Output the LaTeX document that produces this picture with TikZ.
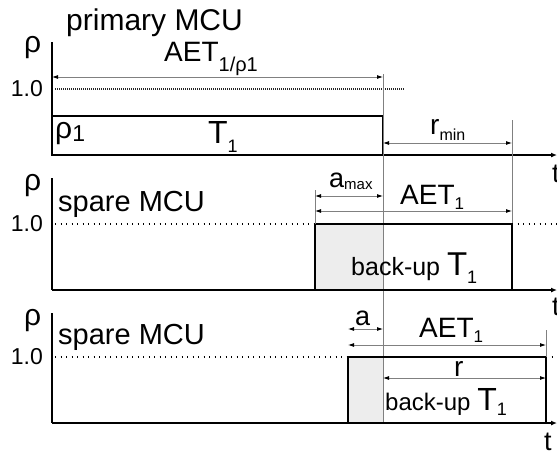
\documentclass[tikz,border=0pt]{standalone}
\usepackage{fontspec}
\setmainfont{Liberation Sans}
\usetikzlibrary{arrows.meta}
\newcommand\fs[1]{\fontsize{#1}{#1}\selectfont}
\newcommand\lsub[3]{\raisebox{-#1pt}{\fs{#2}#3}}
\begin{document}
\begin{tikzpicture}[x=1pt,y=-1pt,
  axis/.style={line width=1.8pt,black},
  taxis/.style={line width=1.8pt,black,-{Latex[length=6pt,width=5pt]}},
  tbox/.style={line width=1.8pt,black},
  shade/.style={fill=black!7,draw=none},
  dim/.style={line width=0.8pt,black!50,{Latex[black,length=6pt,width=4pt]}-{Latex[black,length=6pt,width=4pt]}},
  guide/.style={line width=0.8pt,black!50},
  densedot/.style={line width=1.4pt,black!85,dash pattern=on 1.2pt off 0.8pt},
  sparsedot/.style={line width=1.3pt,black,dash pattern=on 1.3pt off 4.2pt},
  lbl/.style={inner sep=0pt,anchor=base west},
  ylbl/.style={inner sep=0pt,anchor=base east,font=\fs{23}}]
\useasboundingbox (0,0) rectangle (557,451);

% ---------------- panel 1 : primary MCU
\coordinate (top1) at (52,42);
\coordinate (o1) at (52,155);
\coordinate (e1) at (557,155);
\draw[axis] (top1) -- (o1);
\draw[taxis] (o1) -- (e1);
\node[lbl,font=\fs{30}] (title1) at (66,30) {primary MCU};
\node[lbl,font=\fs{30}] (rhoA) at (24,52) {ρ};
\node[ylbl] (oneA) at (43,96) {1.0};
\coordinate (d1a) at (55,89);
\coordinate (d1b) at (404,89);
\draw[densedot] (d1a) -- (d1b);
\coordinate (r1a) at (52,116);
\coordinate (r1b) at (383,155);
\draw[tbox] (r1a) rectangle (r1b);
\node[lbl,font=\fs{30}] (rho1) at (55,138) {ρ\lsub{3}{23}{1}};
\node[lbl,font=\fs{32}] (T1) at (208,143) {T\lsub{9}{18}{1}};
\coordinate (aetA) at (52,77);
\coordinate (aetB) at (383,77);
\draw[dim] (aetA) -- (aetB);
\node[lbl,font=\fs{28}] (aetlbl) at (164,61) {AET\lsub{10}{20}{1/ρ1}};
\coordinate (vA) at (383,74);
\coordinate (vB) at (383,423);
\draw[guide] (vA) -- (vB);
\coordinate (wA) at (512,120);
\coordinate (wB) at (512,224);
\draw[guide] (wA) -- (wB);
\coordinate (rmA) at (383,143);
\coordinate (rmB) at (512,143);
\draw[dim] (rmA) -- (rmB);
\node[lbl,font=\fs{28}] (rmin) at (430,134) {r\lsub{6}{16}{min}};
\node[lbl,font=\fs{27}] (tA) at (552,182) {t};

% ---------------- panel 2 : spare MCU
\coordinate (top2) at (52,178);
\coordinate (o2) at (52,290);
\coordinate (e2) at (557,290);
\draw[shade] (315,224) rectangle (383,290);
\draw[axis] (top2) -- (o2);
\draw[taxis] (o2) -- (e2);
\node[lbl,font=\fs{30}] (rhoB) at (24,190) {ρ};
\node[lbl,font=\fs{29}] (title2) at (58,211) {spare MCU};
\node[ylbl] (oneB) at (43,231) {1.0};
\coordinate (d2a) at (55,224);
\coordinate (d2b) at (315,224);
\coordinate (d2c) at (512,224);
\coordinate (d2d) at (557,224);
\draw[sparsedot] (d2a) -- (d2b);
\draw[sparsedot] (d2c) -- (d2d);
\draw[guide] (383,224) -- (383,290);
\coordinate (r2a) at (315,224);
\coordinate (r2b) at (512,290);
\draw[tbox] (r2a) rectangle (r2b);
\coordinate (g2a) at (315,190);
\draw[guide] (g2a) -- (r2a);
\coordinate (amA) at (315,196);
\coordinate (amB) at (383,196);
\draw[dim] (amA) -- (amB);
\node[lbl,font=\fs{27}] (amax) at (329,187) {a\lsub{2}{15}{max}};
\coordinate (aet2A) at (315,211);
\coordinate (aet2B) at (512,211);
\draw[dim] (aet2A) -- (aet2B);
\node[lbl,font=\fs{28}] (aet2) at (400,204) {AET\lsub{5}{17}{1}};
\node[lbl,font=\fs{25}] (bu2) at (351,275) {back-up \fs{33}T\lsub{8}{18}{1}};
\node[lbl,font=\fs{27}] (tB) at (552,315) {t};

% ---------------- panel 3 : spare MCU
\coordinate (top3) at (52,313);
\coordinate (o3) at (52,423);
\coordinate (e3) at (557,423);
\draw[shade] (348,357) rectangle (383,423);
\draw[axis] (top3) -- (o3);
\draw[taxis] (o3) -- (e3);
\node[lbl,font=\fs{30}] (rhoC) at (24,325) {ρ};
\node[lbl,font=\fs{29}] (title3) at (58,344) {spare MCU};
\node[ylbl] (oneC) at (43,364) {1.0};
\coordinate (d3a) at (55,357);
\coordinate (d3b) at (348,357);
\coordinate (d3c) at (546,357);
\coordinate (d3d) at (557,357);
\draw[sparsedot] (d3a) -- (d3b);
\draw[sparsedot] (d3c) -- (d3d);
\coordinate (r3a) at (348,357);
\coordinate (r3b) at (546,423);
\draw[tbox] (r3a) rectangle (r3b);
\coordinate (g3a) at (546,330);
\draw[guide] (g3a) -- (d3c);
\coordinate (aA) at (348,329);
\coordinate (aB) at (383,329);
\draw[dim] (aA) -- (aB);
\node[lbl,font=\fs{27}] (alab) at (355,325) {a};
\coordinate (aet3A) at (348,345);
\coordinate (aet3B) at (546,345);
\draw[dim] (aet3A) -- (aet3B);
\node[lbl,font=\fs{28}] (aet3) at (419,337) {AET\lsub{5}{17}{1}};
\coordinate (rA) at (383,378);
\coordinate (rB) at (546,378);
\draw[dim] (rA) -- (rB);
\node[lbl,font=\fs{28}] (rlab) at (454,376) {r};
\node[lbl,font=\fs{24}] (bu3) at (385,410) {back-up \fs{32}T\lsub{5}{18}{1}};
\node[lbl,font=\fs{27}] (tC) at (544,450) {t};
\end{tikzpicture}
\end{document}
